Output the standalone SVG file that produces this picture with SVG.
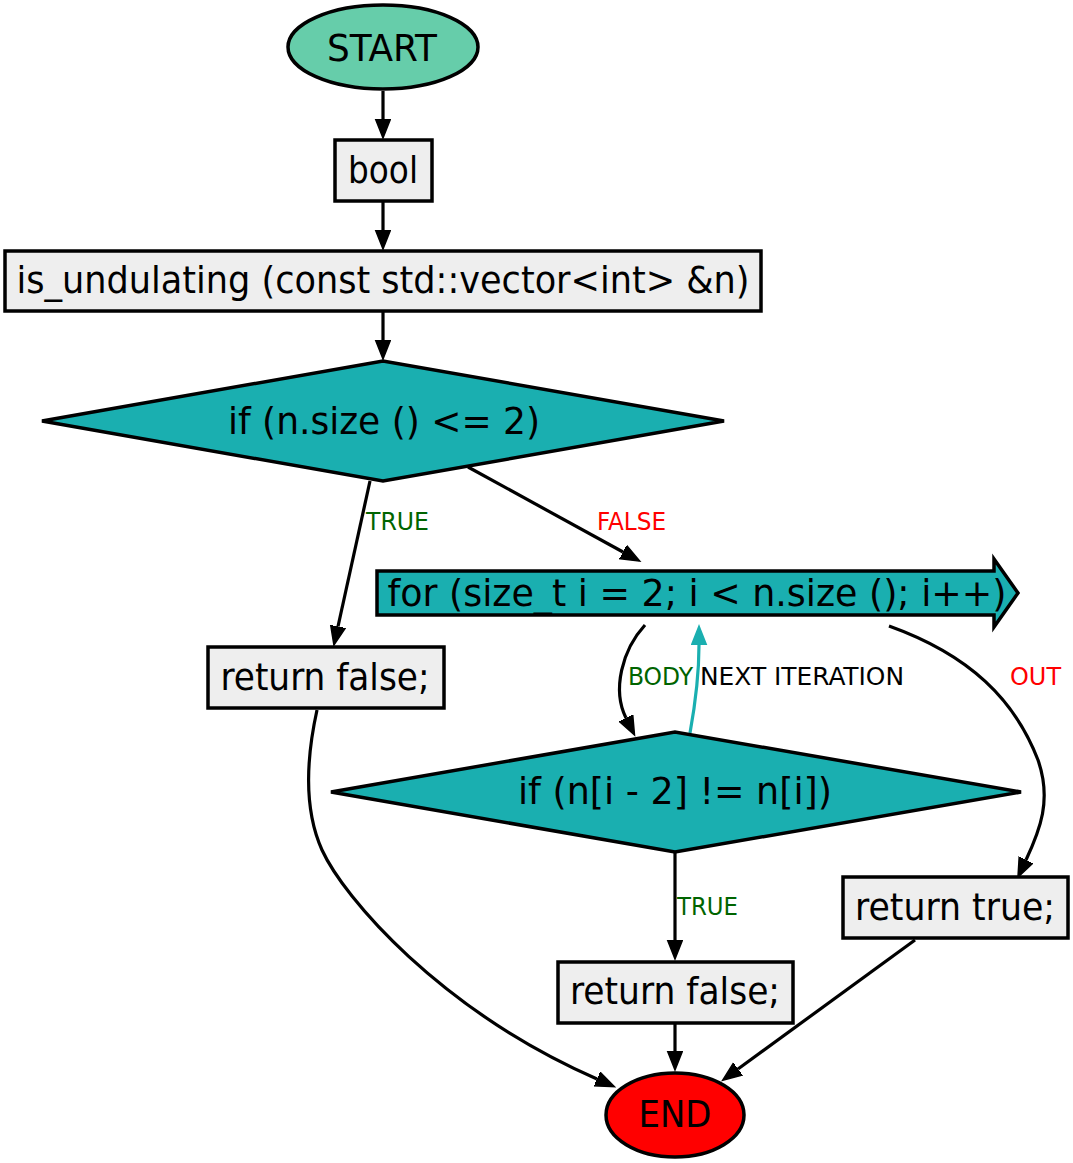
<svg xmlns="http://www.w3.org/2000/svg" width="1073" height="1163" viewBox="0 0 1073 1163">
<style>
  .main { font-family: "DejaVu Sans Condensed", "DejaVu Sans", sans-serif; font-stretch: condensed; font-size: 38px; fill: #000; text-anchor: middle; }
  .lbl { font-family: "DejaVu Sans Condensed", "DejaVu Sans", sans-serif; font-stretch: condensed; font-size: 24px; }
  .node { stroke: #000; stroke-width: 3.5; }
  .box { fill: #eeeeee; }
  .teal { fill: #1aafb0; }
  .edge { fill: none; stroke: #000; stroke-width: 3.2; marker-end: url(#ah); }
  .edge.loop { stroke: #1aafb0; marker-end: url(#aht); }
  .green { fill: #006400; }
  .red { fill: #ff0000; }
  .black { fill: #000; }
</style>
<defs>
  <marker id="ah" markerWidth="22" markerHeight="18" refX="0" refY="8" orient="auto" markerUnits="userSpaceOnUse">
    <path d="M0,0.5 L19,8 L0,15.5 z" fill="#000" stroke="#000" stroke-width="1.5"/>
  </marker>
  <marker id="aht" markerWidth="22" markerHeight="18" refX="0" refY="8" orient="auto" markerUnits="userSpaceOnUse">
    <path d="M0,0.5 L19,8 L0,15.5 z" fill="#1aafb0" stroke="#1aafb0" stroke-width="1.5"/>
  </marker>
</defs>
<rect width="1073" height="1163" fill="#ffffff"/>

<g id="connectors">
  <path class="edge" d="M383,91 L383,119"/>
  <path class="edge" d="M383,202 L383,230"/>
  <path class="edge" d="M383,312 L383,340"/>
  <path class="edge" d="M370,481 L338,626.5"/>
  <path class="edge" d="M468,467 L623,552"/>
  <path class="edge" d="M645,625 C622,650 612,690 626,718"/>
  <path class="edge loop" d="M690,733 C696,700 699,675 699,645"/>
  <path class="edge" d="M889,626 C970,655 1015,700 1038,760 C1052,800 1040,830 1026,860"/>
  <path class="edge" d="M317,710 C306,760 304,810 322,850 C344,898 440,1010 597,1079"/>
  <path class="edge" d="M675,853 L675,940"/>
  <path class="edge" d="M675,1024 L675,1051"/>
  <path class="edge" d="M915,940 L738,1069"/>
  <text class="lbl green" x="366" y="530" textLength="63" lengthAdjust="spacingAndGlyphs">TRUE</text>
  <text class="lbl red" x="597" y="530" textLength="69" lengthAdjust="spacingAndGlyphs">FALSE</text>
  <text class="lbl green" x="628" y="685" textLength="65" lengthAdjust="spacingAndGlyphs">BODY</text>
  <text class="lbl black" x="700" y="685" textLength="204" lengthAdjust="spacingAndGlyphs">NEXT ITERATION</text>
  <text class="lbl red" x="1010" y="685" textLength="51" lengthAdjust="spacingAndGlyphs">OUT</text>
  <text class="lbl green" x="677" y="915" textLength="61" lengthAdjust="spacingAndGlyphs">TRUE</text>
</g>

<g id="start">
  <ellipse class="node" cx="383" cy="47" rx="95" ry="42" fill="#66cdaa"/>
  <text class="main" x="382" y="61" textLength="110" lengthAdjust="spacingAndGlyphs">START</text>
</g>
<g id="bool">
  <rect class="node box" x="335" y="140" width="97" height="61"/>
  <text class="main" x="383" y="183" textLength="70" lengthAdjust="spacingAndGlyphs">bool</text>
</g>
<g id="func">
  <rect class="node box" x="5" y="251" width="756" height="60"/>
  <text class="main" x="383" y="293" textLength="733" lengthAdjust="spacingAndGlyphs">is_undulating (const std::vector&lt;int&gt; &amp;n)</text>
</g>
<g id="if1">
  <polygon class="node teal" points="42,421 383,361 724,421 383,481"/>
  <text class="main" x="384" y="434" textLength="312" lengthAdjust="spacingAndGlyphs">if (n.size () &lt;= 2)</text>
</g>
<g id="for">
  <polygon class="node teal" points="377,571 994,571 994,559 1018,593 994,627 994,615 377,615"/>
  <text class="main" x="697" y="606" textLength="619" lengthAdjust="spacingAndGlyphs">for (size_t i = 2; i &lt; n.size (); i++)</text>
</g>
<g id="ret_false1">
  <rect class="node box" x="208" y="647" width="236" height="61"/>
  <text class="main" x="325" y="690" textLength="209" lengthAdjust="spacingAndGlyphs">return false;</text>
</g>
<g id="if2">
  <polygon class="node teal" points="331,792 675,732 1021,792 675,852"/>
  <text class="main" x="675" y="804" textLength="314" lengthAdjust="spacingAndGlyphs">if (n[i - 2] != n[i])</text>
</g>
<g id="ret_true">
  <rect class="node box" x="843" y="877" width="225" height="61"/>
  <text class="main" x="955" y="920" textLength="200" lengthAdjust="spacingAndGlyphs">return true;</text>
</g>
<g id="ret_false2">
  <rect class="node box" x="558" y="962" width="235" height="61"/>
  <text class="main" x="675" y="1004" textLength="210" lengthAdjust="spacingAndGlyphs">return false;</text>
</g>
<g id="end">
  <ellipse class="node" cx="675" cy="1115" rx="69" ry="42" fill="#ff0000"/>
  <text class="main" x="675" y="1127" textLength="73" lengthAdjust="spacingAndGlyphs">END</text>
</g>
</svg>
